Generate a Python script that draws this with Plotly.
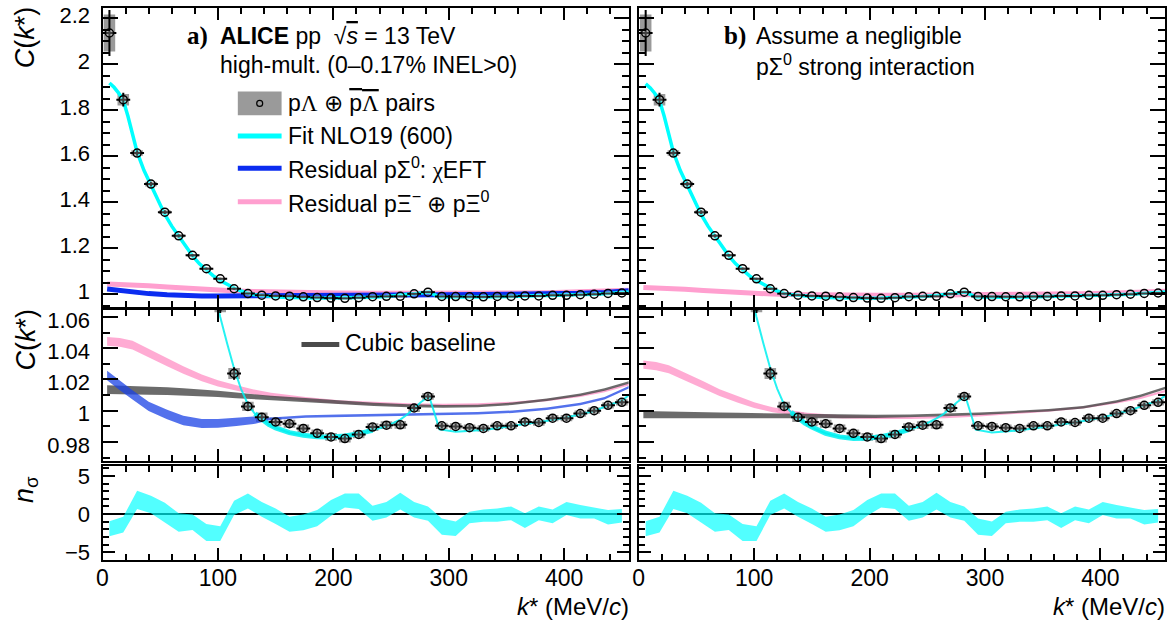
import plotly.graph_objects as go

W, H = 1174, 628
def px(x): return x / W
def py(y): return 1 - y / H

FONT = "Liberation Sans"
SERIF = "Liberation Serif"

# ---------------- data: p-Lambda correlation ----------------
k = [6, 18, 30, 42, 54, 66, 78, 90, 102, 114, 126, 138, 150, 162, 174, 186, 198, 210, 222,
     234, 246, 258, 270, 282, 294, 306, 318, 330, 342, 354, 366, 378, 390, 402, 414, 426, 438, 450]
C = [2.136, 1.846, 1.614, 1.479, 1.357, 1.254, 1.169, 1.111, 1.067, 1.0238, 1.0027, 0.9958, 0.9928,
     0.9916, 0.9886, 0.9855, 0.9832, 0.9821, 0.9848, 0.9895, 0.9907, 0.9909, 1.0017, 1.0091, 0.9903,
     0.9899, 0.9891, 0.9886, 0.9903, 0.9903, 0.9928, 0.9924, 0.9952, 0.9952, 0.9981, 1.0000, 1.0034, 1.0053]
stat = [0.10, 0.03, 0.012, 0.010, 0.008, 0.007, 0.006, 0.005, 0.0045, 0.004, 0.003, 0.0025, 0.002,
        0.002, 0.002, 0.002, 0.002, 0.002, 0.002, 0.002, 0.002, 0.002, 0.002, 0.0018, 0.0018, 0.0018,
        0.0018, 0.0018, 0.0018, 0.0018, 0.0018, 0.0018, 0.0018, 0.0018, 0.0018, 0.0018, 0.0018, 0.0018]
syst = [0.08, 0.025, 0.012, 0.010, 0.008, 0.007, 0.006, 0.005, 0.004, 0.0035, 0.003, 0.003, 0.0028,
        0.0025, 0.0025, 0.0025, 0.0025, 0.0025, 0.0025, 0.0025, 0.0025, 0.0025, 0.0025, 0.0022, 0.002,
        0.002, 0.002, 0.002, 0.002, 0.002, 0.002, 0.002, 0.002, 0.002, 0.002, 0.002, 0.002, 0.002]

# ---------------- fits ----------------
k_fit = [6, 10, 14, 18, 22, 26, 30, 36, 42, 48, 54, 60, 66, 72, 78, 84, 90, 96, 102, 108, 114, 120,
         126, 132, 138, 144, 150, 156, 162, 174, 186, 198, 210, 222, 234, 246, 258, 264, 270, 276, 283,
         292, 306, 318, 330, 342, 354, 366, 378, 390, 402, 414, 426, 438, 450, 456]
c_fit_a = [1.919, 1.900, 1.875, 1.843, 1.775, 1.695, 1.618, 1.538, 1.472, 1.405, 1.347, 1.296, 1.251,
           1.207, 1.167, 1.132, 1.104, 1.080, 1.060, 1.043, 1.027, 1.014, 1.004, 0.998, 0.9943, 0.9912,
           0.9890, 0.9872, 0.9859, 0.9842, 0.9833, 0.9832, 0.9838, 0.9853, 0.9874, 0.9900, 0.9943,
           0.9975, 1.0017, 1.0055, 1.0092, 0.9880, 0.9865, 0.9870, 0.9876, 0.9888, 0.9899, 0.9914,
           0.9926, 0.9941, 0.9956, 0.9977, 0.9998, 1.0034, 1.0063, 1.0100]
c_fit_b = [1.915, 1.897, 1.873, 1.843, 1.775, 1.695, 1.618, 1.538, 1.472, 1.405, 1.347, 1.296, 1.251,
           1.207, 1.167, 1.132, 1.104, 1.080, 1.060, 1.043, 1.027, 1.014, 1.0038, 0.999, 0.9954, 0.9920,
           0.9895, 0.9872, 0.9855, 0.9832, 0.9822, 0.9823, 0.9833, 0.9852, 0.9878, 0.9905, 0.9950,
           0.9978, 1.0015, 1.0055, 1.0092, 0.9878, 0.9860, 0.9866, 0.9874, 0.9885, 0.9897, 0.9911,
           0.9924, 0.9940, 0.9957, 0.9980, 1.0002, 1.0035, 1.0064, 1.0095]

# ---------------- residual / baseline curves ----------------
k_res = [4, 15, 26, 40, 56, 70, 86, 100, 116, 131, 146, 176, 205, 235, 265, 295, 325, 355, 385,
         414, 435, 456]
pink_a = [1.0443, 1.0437, 1.0420, 1.0370, 1.0310, 1.0260, 1.0210, 1.0175, 1.0145, 1.0120, 1.0100,
          1.0074, 1.0055, 1.0045, 1.0038, 1.0036, 1.0040, 1.0050, 1.0067, 1.0095, 1.0125, 1.0168]
pink_a_hw = [0.0028, 0.0028, 0.0028, 0.0027, 0.0026, 0.0024, 0.0022, 0.0020, 0.0018, 0.0016, 0.0015,
             0.0013, 0.0011, 0.0010, 0.0009, 0.0008, 0.0008, 0.0007, 0.0007, 0.0007, 0.0007, 0.0007]
blue_a = [1.0225, 1.0160, 1.0101, 1.0027, 0.9975, 0.9937, 0.9918, 0.9919, 0.9928, 0.9938, 0.9948,
          0.9962, 0.9967, 0.9971, 0.9975, 0.9979, 0.9984, 0.9993, 1.0012, 1.0042, 1.0080, 1.0150]
blue_a_hw = [0.0030, 0.0030, 0.0030, 0.0030, 0.0030, 0.0030, 0.0029, 0.0028, 0.0027, 0.0024, 0.0008,
             0.0008, 0.0008, 0.0008, 0.0008, 0.0008, 0.0008, 0.0008, 0.0008, 0.0008, 0.0008, 0.0008]
gray_a = [1.0135, 1.0133, 1.0131, 1.0128, 1.0125, 1.0120, 1.0115, 1.0108, 1.0098, 1.0090, 1.0080,
          1.0068, 1.0053, 1.0040, 1.0031, 1.0027, 1.0029, 1.0044, 1.0070, 1.0101, 1.0135, 1.0180]
gray_a_hw = [0.0028, 0.0028, 0.0027, 0.0026, 0.0025, 0.0024, 0.0022, 0.0020, 0.0018, 0.0016, 0.0015,
             0.0013, 0.0012, 0.0011, 0.0010, 0.0009, 0.0008, 0.0008, 0.0008, 0.0008, 0.0008, 0.0008]
pink_b = [1.0295, 1.0285, 1.0265, 1.0220, 1.0164, 1.0115, 1.0070, 1.0035, 1.0006, 0.9988, 0.9975,
          0.9960, 0.9955, 0.9954, 0.9960, 0.9970, 0.9985, 1.0000, 1.0020, 1.0053, 1.0082, 1.0125]
pink_b_hw = [0.0026, 0.0026, 0.0026, 0.0025, 0.0024, 0.0022, 0.0020, 0.0018, 0.0016, 0.0014, 0.0012,
             0.0010, 0.0009, 0.0008, 0.0008, 0.0008, 0.0007, 0.0007, 0.0007, 0.0007, 0.0007, 0.0007]
gray_b = [0.9975, 0.9974, 0.9973, 0.9972, 0.9970, 0.9969, 0.9968, 0.9967, 0.9966, 0.9965, 0.9964,
          0.9963, 0.9963, 0.9966, 0.9972, 0.9980, 0.9990, 1.0003, 1.0022, 1.0058, 1.0095, 1.0145]
gray_b_hw = [0.0023, 0.0023, 0.0022, 0.0021, 0.0020, 0.0019, 0.0018, 0.0017, 0.0015, 0.0014, 0.0013,
             0.0011, 0.0010, 0.0009, 0.0008, 0.0008, 0.0008, 0.0008, 0.0008, 0.0008, 0.0008, 0.0008]

# ---------------- n_sigma band ----------------
ns_up = [-0.92, -0.35, 3.07, 2.4, 1.5, 0.1, -0.04, -1.3, -1.6, 1.75, 2.7, 1.6, 0.75, -0.35, -0.04, 0.53,
         1.84, 2.7, 2.7, 1.1, 1.6, 2.8, 1.6, 1.0, -0.57, -0.96, 0.3, 0.6, 0.75, 1.0, 0.1, 1.0, 0.6, 1.6,
         1.2, 0.84, 0.53, 0.66]
ns_lo = [-2.9, -2.4, 0.66, 0.1, -1.1, -2.3, -2.06, -3.5, -3.5, -0.13, 0.75, -0.35, -1.3, -2.3, -2.1, -1.6,
         -0.2, 0.88, 0.66, -0.88, -0.44, 0.6, -0.44, -0.88, -2.7, -2.85, -1.2, -1.0, -1.0, -0.8, -1.8, -0.8,
         -1.2, -0.13, -0.57, -0.57, -1.36, -1.1]

CYAN = "#00ffff"
BLUE = "#0b2cf0"
PINK = "#ff9fcf"

fig = go.Figure()


def band(xa, ya, hw, color, xax, yax):
    up = [a + b for a, b in zip(ya, hw)]
    lo = [a - b for a, b in zip(ya, hw)]
    fig.add_trace(go.Scatter(x=list(xa) + list(xa)[::-1], y=up + lo[::-1], fill="toself",
                             fillcolor=color, line=dict(width=0), mode="lines",
                             xaxis=xax, yaxis=yax, hoverinfo="skip"))


def data_marks(xax, yax):
    fig.add_trace(go.Bar(x=k, y=[2 * s for s in syst], base=[c - s for c, s in zip(C, syst)],
                         width=10, marker=dict(color="#9a9a9a", line=dict(width=0)),
                         xaxis=xax, yaxis=yax, hoverinfo="skip"))


def data_points(xax, yax):
    fig.add_trace(go.Scatter(x=k, y=C, mode="markers",
                             marker=dict(symbol="circle", size=8, color="rgba(255,255,255,0.25)",
                                         line=dict(color="black", width=1.5)),
                             error_y=dict(type="data", array=stat, color="black", thickness=2, width=0),
                             error_x=dict(type="constant", value=6, color="black", thickness=2, width=0),
                             xaxis=xax, yaxis=yax))


def thick_part(xs, ys, lo, hi):
    sx = [a for a in xs if lo <= a <= hi]
    sy = [b for a, b in zip(xs, ys) if lo <= a <= hi]
    return sx, sy

# ---- top-left ----
data_marks("x", "y")
fig.add_trace(go.Scatter(x=k_res, y=pink_a, mode="lines", line=dict(color=PINK, width=5), xaxis="x", yaxis="y"))
fig.add_trace(go.Scatter(x=k_res, y=blue_a, mode="lines", line=dict(color=BLUE, width=5), xaxis="x", yaxis="y"))
fig.add_trace(go.Scatter(x=k_fit, y=c_fit_a, mode="lines", line=dict(color=CYAN, width=3.5), xaxis="x", yaxis="y"))
data_points("x", "y")

# ---- top-right ----
data_marks("x2", "y2")
fig.add_trace(go.Scatter(x=k_res, y=pink_b, mode="lines", line=dict(color=PINK, width=5), xaxis="x2", yaxis="y2"))
fig.add_trace(go.Scatter(x=k_fit, y=c_fit_b, mode="lines", line=dict(color=CYAN, width=3.5), xaxis="x2", yaxis="y2"))
data_points("x2", "y2")

# ---- middle-left ----
band(k_res, pink_a, pink_a_hw, "rgba(255,150,200,0.8)", "x3", "y3")
band(k_res, gray_a, gray_a_hw, "rgba(70,70,70,0.8)", "x3", "y3")
band(k_res, blue_a, blue_a_hw, "rgba(25,65,230,0.75)", "x3", "y3")
data_marks("x3", "y3")
fig.add_trace(go.Scatter(x=k_fit, y=c_fit_a, mode="lines", line=dict(color="rgba(0,240,240,0.85)", width=2), xaxis="x3", yaxis="y3"))
tx, ty = thick_part(k_fit, c_fit_a, 130, 240)
fig.add_trace(go.Scatter(x=tx, y=ty, mode="lines", line=dict(color="rgba(0,240,240,0.85)", width=5), xaxis="x3", yaxis="y3"))
data_points("x3", "y3")

# ---- middle-right ----
band(k_res, pink_b, pink_b_hw, "rgba(255,150,200,0.8)", "x4", "y4")
band(k_res, gray_b, gray_b_hw, "rgba(70,70,70,0.8)", "x4", "y4")
data_marks("x4", "y4")
fig.add_trace(go.Scatter(x=k_fit, y=c_fit_b, mode="lines", line=dict(color="rgba(0,240,240,0.85)", width=2), xaxis="x4", yaxis="y4"))
tx, ty = thick_part(k_fit, c_fit_b, 130, 240)
fig.add_trace(go.Scatter(x=tx, y=ty, mode="lines", line=dict(color="rgba(0,240,240,0.85)", width=5), xaxis="x4", yaxis="y4"))
data_points("x4", "y4")

# ---- bottom n_sigma ----
for xax, yax in (("x5", "y5"), ("x6", "y6")):
    fig.add_trace(go.Scatter(x=k, y=ns_lo, mode="lines", line=dict(width=0), xaxis=xax, yaxis=yax, hoverinfo="skip"))
    fig.add_trace(go.Scatter(x=k, y=ns_up, mode="lines", line=dict(width=0), fill="tonexty",
                             fillcolor="rgba(0,255,255,0.68)", xaxis=xax, yaxis=yax, hoverinfo="skip"))

# ---------------- axes ----------------
XD_L = [px(97), px(626)]
XD_R = [px(636), px(1165)]
YD_T = [py(307), py(3)]
YD_M = [py(463), py(310)]
YD_B = [py(564), py(468)]

def xaxis(domain, anchor, labels):
    return dict(domain=domain, anchor=anchor, range=[0, 456], tick0=0, dtick=100,
                showline=True, linewidth=2, linecolor="black", mirror="allticks",
                ticks="inside", ticklen=12, tickwidth=1.5, tickcolor="black",
                minor=dict(ticks="inside", dtick=20, ticklen=6, tickwidth=1.5, tickcolor="black"),
                showgrid=False, zeroline=False, showticklabels=labels, ticklabelstandoff=-4,
                tickfont=dict(family=FONT, size=23, color="black"))

def yaxis(domain, anchor, rng, dtick, tick0, mdtick, labels, tl=15, zl=False, shift=0):
    return dict(domain=domain, anchor=anchor, range=rng, tick0=tick0, dtick=dtick,
                showline=True, linewidth=2, linecolor="black", mirror="allticks",
                ticks="inside", ticklen=tl, tickwidth=1.5, tickcolor="black",
                minor=dict(ticks="inside", dtick=mdtick, ticklen=tl // 2, tickwidth=1.5, tickcolor="black"),
                showgrid=False, zeroline=zl, zerolinecolor="black", zerolinewidth=1.5,
                showticklabels=labels, ticklabelstandoff=6, ticklabelshift=shift,
                tickfont=dict(family=FONT, size=22, color="black"))

fig.update_layout(
    width=W, height=H, margin=dict(l=0, r=0, t=0, b=0),
    paper_bgcolor="white", plot_bgcolor="white", showlegend=False, barmode="overlay",
    xaxis=xaxis(XD_L, "y", False), yaxis=yaxis(YD_T, "x", [0.944, 2.245], 0.2, 1, 0.05, True, shift=-3),
    xaxis2=xaxis(XD_R, "y2", False), yaxis2=yaxis(YD_T, "x2", [0.944, 2.245], 0.2, 1, 0.05, False),
    xaxis3=xaxis(XD_L, "y3", False), yaxis3=yaxis(YD_M, "x3", [0.968, 1.0644], 0.02, 1, 0.01, True, shift=3),
    xaxis4=xaxis(XD_R, "y4", False), yaxis4=yaxis(YD_M, "x4", [0.968, 1.0644], 0.02, 1, 0.01, False),
    xaxis5=xaxis(XD_L, "y5", True), yaxis5=yaxis(YD_B, "x5", [-6.0, 6.35], 5, 0, 1, True, 12, True),
    xaxis6=xaxis(XD_R, "y6", True), yaxis6=yaxis(YD_B, "x6", [-6.0, 6.35], 5, 0, 1, False, 12, True),
)

# ---------------- texts ----------------
def txt(x, y, s, size=23, anchor="left", family=FONT, angle=0, yanchor="middle"):
    fig.add_annotation(x=px(x), y=py(y), xref="paper", yref="paper", text=s, showarrow=False,
                       xanchor=anchor, yanchor=yanchor, textangle=angle, borderpad=0,
                       font=dict(family=family, size=size, color="black"))

OV = "<span style='text-decoration:overline'>"
txt(192, 31, "<b>a)</b>", 25, "center", SERIF)
txt(214, 31, "<b>ALICE</b> pp  √" + OV + "<i>s</i></span> = 13 TeV")
txt(214, 61, "high-mult. (0–0.17% INEL>0)")
txt(733, 31, "<b>b)</b>", 25, "center", SERIF)
txt(753, 31, "Assume a negligible")
txt(753, 61, "pΣ<sup>0</sup> strong interaction")

# legend box & lines
fig.add_shape(type="rect", xref="paper", yref="paper", x0=px(233), x1=px(277), y0=py(112), y1=py(88),
              fillcolor="#9a9a9a", line=dict(width=0))
fig.add_shape(type="circle", xref="paper", yref="paper", x0=px(252), x1=px(258), y0=py(103), y1=py(97),
              line=dict(color="black", width=1.2))
for yy, col in ((133, CYAN), (166, BLUE), (200, PINK)):
    fig.add_shape(type="line", xref="paper", yref="paper", x0=px(233), x1=px(277), y0=py(yy), y1=py(yy),
                  line=dict(color=col, width=5))
txt(282, 100, "p<span style='font-family:Liberation Serif'>Λ</span> ⊕ " + OV +
    "p<span style='font-family:Liberation Serif'>Λ</span></span> pairs")
txt(282, 133, "Fit NLO19 (600)")
txt(282, 166, "Residual pΣ<sup>0</sup>: <span style='font-family:Liberation Serif'>χ</span>EFT")
txt(282, 200, "Residual pΞ<sup>−</sup> ⊕ pΞ<sup>0</sup>")

fig.add_shape(type="line", xref="paper", yref="paper", x0=px(297), x1=px(335), y0=py(345), y1=py(345),
              line=dict(color="#4a4a4a", width=5))
txt(340, 343, "Cubic baseline")

# axis titles
txt(20, 33, "<i>C</i>(<i>k</i>*)", 27, "center", angle=-90)
txt(20, 340, "<i>C</i>(<i>k</i>*)", 27, "center", angle=-90)
txt(20, 492, "<i>n</i><sub>σ</sub>", 27, "center", angle=-90)
txt(627, 611, "<i>k</i>* (MeV/<i>c</i>)", 24, "right")
txt(1166, 611, "<i>k</i>* (MeV/<i>c</i>)", 24, "right")

fig.write_html("out.html", config={"displayModeBar": False},
               post_script="document.body.style.margin='0px';")
